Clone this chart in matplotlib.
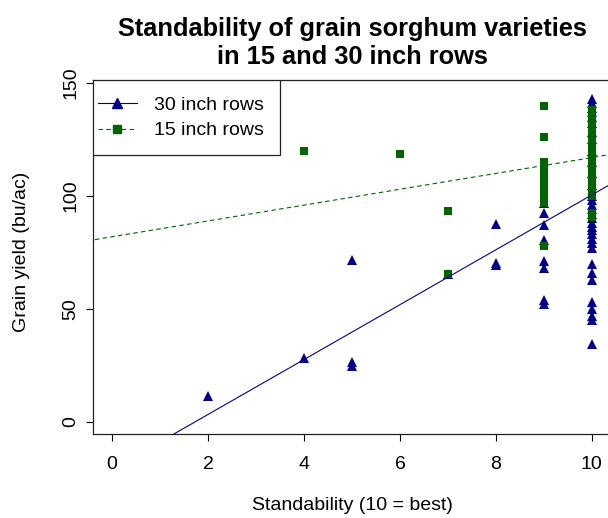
import matplotlib
matplotlib.use("Agg")
import matplotlib.pyplot as plt
from matplotlib.lines import Line2D
from matplotlib.patches import Rectangle
import numpy as np

plt.rcParams['font.family'] = ['Liberation Sans', 'DejaVu Sans']

# standability score and grain yield (bu/ac)
x30 = [2, 4, 5, 5, 5, 7, 8, 8, 8] + [9] * 8 + [10] * 33
y30 = [11.5, 28.5, 71.5, 26.5, 24.8, 65.5, 87.5, 70.5, 69.5,
       97, 92.5, 87, 80.5, 71, 68, 54, 52,
       143, 141, 139, 137, 135, 132, 128, 125, 120, 115, 110, 105,
       100, 98, 96, 94, 92, 90, 88, 86, 85, 83, 81, 79, 77,
       70, 66, 63, 53, 50, 47, 45, 34.5]

x15 = [4, 6, 7, 7] + [9] * 10 + [10] * 22
y15 = [120, 118.5, 93.5, 65.5,
       139.5, 126, 115, 112, 109, 106, 103, 100, 97, 78,
       138, 136, 134, 132, 130, 128, 126, 124, 122, 120, 118,
       116, 114, 112, 110, 108, 106, 104, 102, 100, 92.5, 90.5]

# fitted lines (intercept, slope)
fit30 = [-20.9, 12.13]
fit15 = [81.9, 3.5]

navy = '#00008B'
green = '#006400'

fig = plt.figure(figsize=(6.08, 5.18), dpi=100)
ax = fig.add_axes([93 / 608, 84 / 518, 518 / 608, 354 / 518])

ax.plot(x30, y30, linestyle='none', marker='^', markersize=6.5,
        color=navy, markeredgewidth=0)
ax.plot(x15, y15, linestyle='none', marker='s', markersize=6,
        color=green, markeredgewidth=0)

xs = np.array([-1.0, 11.0])
ax.plot(xs, fit30[0] + fit30[1] * xs, color=navy, lw=0.8)
ax.plot(xs, fit15[0] + fit15[1] * xs, color=green, lw=0.8, ls=(0, (4, 3)))

ax.set_xlim(-0.4, 10.4)
ax.set_ylim(-5.3, 151.2)
ax.set_xticks(range(0, 11, 2))
ax.set_yticks([0, 50, 100, 150])
ax.tick_params(axis='x', length=5, pad=11, labelsize=14, width=0.8)
ax.tick_params(axis='y', length=5, pad=5, labelsize=14, width=0.8,
               labelrotation=90)
for lab in ax.get_yticklabels():
    lab.set_va('center')
for s in ax.spines.values():
    s.set_linewidth(0.9)
    s.set_color('#222222')

# legend: box drawn separately, like R's legend()
ax.add_patch(Rectangle((0, 1 - 75 / 354), 187 / 518, 75 / 354,
                       transform=ax.transAxes, facecolor='white',
                       edgecolor='#222222', lw=0.9, zorder=4))
h = [Line2D([], [], color=navy, marker='^', markersize=7, lw=0.8),
     Line2D([], [], color=green, marker='s', markersize=6, lw=0.8,
            ls=(0, (4, 3)))]
leg = ax.legend(h, ['30 inch rows', '15 inch rows'], loc='upper left',
                bbox_to_anchor=(5 / 518, 1 - 16 / 354), borderaxespad=0,
                frameon=False, fontsize=14, handlelength=2.0,
                handletextpad=0.9, borderpad=0, labelspacing=0.42)
leg.set_zorder(5)

fig.text(352 / 608, 1 - 43 / 518,
         'Standability of grain sorghum varieties\nin 15 and 30 inch rows',
         ha='center', va='center', fontsize=18.3, fontweight='bold',
         linespacing=1.2)
fig.text(352 / 608, 1 - 505 / 518, 'Standability (10 = best)',
         ha='center', va='center', fontsize=14)
fig.text(22 / 608, 1 - 252 / 518, 'Grain yield (bu/ac)', rotation=90,
         ha='center', va='center', fontsize=14)

fig.savefig('out.png', dpi=100)
